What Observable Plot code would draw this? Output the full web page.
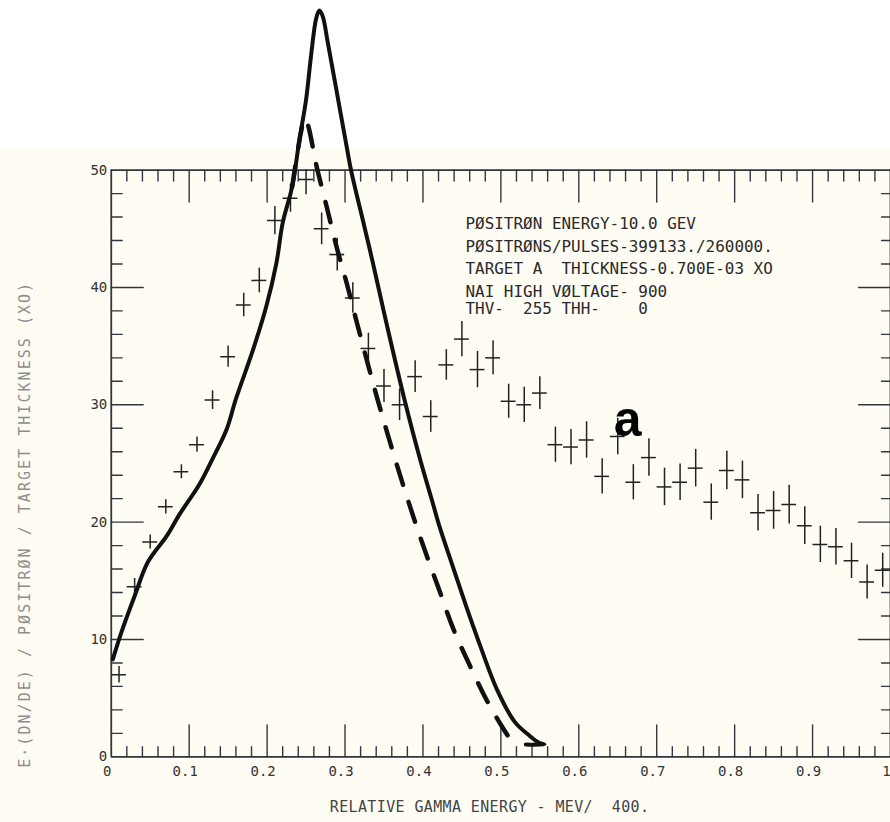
<!DOCTYPE html>
<html>
<head>
<meta charset="utf-8">
<script src="https://cdn.jsdelivr.net/npm/d3@7"></script>
<script src="https://cdn.jsdelivr.net/npm/@observablehq/plot@0.6"></script>
<style>
html, body { margin: 0; padding: 0; background: #ffffff; }
#wrap { width: 890px; height: 822px; overflow: hidden;
  background: linear-gradient(#ffffff 0px, #ffffff 147px, #fefcf3 147px); }
#wrap svg { display: block; }
</style>
</head>
<body>
<div id="wrap"></div>
<script>
// ---- measured data points (crosses) ----
const pointX = [0.01,0.03,0.05,0.07,0.09,0.11,0.13,0.15,0.17,0.19,
                0.21,0.23,0.25,0.27,0.29,0.31,0.33,0.35,0.37,0.39,
                0.41,0.43,0.45,0.47,0.49,0.51,0.53,0.55,0.57,0.59,
                0.61,0.63,0.65,0.67,0.69,0.71,0.73,0.75,0.77,0.79,
                0.81,0.83,0.85,0.87,0.89,0.91,0.93,0.95,0.97,0.99];
const pointY = [7.0,14.5,18.3,21.3,24.3,26.6,30.4,34.1,38.5,40.6,
                45.7,47.6,49.2,45.0,42.8,39.1,34.8,31.6,30.0,32.4,
                29.0,33.4,35.6,33.0,34.0,30.3,30.0,31.0,26.6,26.4,
                27.0,23.9,27.3,23.4,25.5,23.0,23.4,24.6,21.7,24.4,
                23.6,20.8,21.0,21.5,19.7,18.1,17.9,16.7,14.9,15.9];
const pointErr = [0.7,0.7,0.6,0.6,0.6,0.65,0.8,0.9,1.0,1.05,
                  1.2,1.2,1.3,1.35,1.4,1.3,1.3,1.4,1.35,1.35,
                  1.35,1.3,1.5,1.55,1.45,1.45,1.5,1.4,1.5,1.5,
                  1.55,1.5,1.55,1.5,1.6,1.6,1.55,1.6,1.55,1.65,
                  1.6,1.55,1.6,1.65,1.6,1.55,1.55,1.5,1.45,1.45];
const binHalfWidth = 0.0095;

// ---- solid calculated curve ----
const solidX = [0.002,0.013,0.030,0.047,0.071,0.088,0.113,0.130,0.148,0.160,
                0.182,0.199,0.212,0.220,0.2322,0.2415,0.250,0.2565,0.2629,0.267,
                0.2714,0.2778,0.2885,0.3013,0.3077,0.3248,0.3354,0.3462,0.3568,0.3761,
                0.3974,0.4123,0.4209,0.4379,0.4551,0.4727,0.4952,0.5175,0.5367,0.549,
                0.556,0.532];
const solidY = [8.3,10.6,13.7,16.6,18.8,20.7,23.2,25.4,27.9,30.5,
                34.7,38.4,42.1,45.5,48.6,52.6,56.0,59.8,62.9,63.6,
                63.1,60.9,57.0,52.3,50.0,45.2,42.2,39.0,35.9,30.5,
                25.1,21.7,19.7,16.3,12.9,9.6,5.7,3.0,1.8,1.2,
                1.05,1.05];

// ---- dashed calculated curve ----
const dashX = [0.2322,0.2437,0.248,0.2521,0.2585,0.2629,0.276,0.289,0.302,0.316,
               0.330,0.342,0.356,0.372,0.388,0.404,0.421,0.439,0.460,0.482,
               0.504,0.518];
const dashY = [48.6,53.3,54.4,53.9,52.0,50.5,47.0,43.5,40.4,36.8,
               33.3,30.4,27.2,23.7,20.4,17.3,14.2,10.9,7.8,4.8,
               2.3,0.9];

// ---- axes ----
const xMajor = [0,0.1,0.2,0.3,0.4,0.5,0.6,0.7,0.8,0.9,1];
const xTickLabels = ["0","0.1","0.2","0.3","0.4","0.5","0.6","0.7","0.8","0.9","1"];
const xInnerMajor = [0.1,0.2,0.3,0.4,0.5,0.6,0.7,0.8,0.9];
const xMinor = [0.02,0.04,0.06,0.08,0.12,0.14,0.16,0.18,0.22,0.24,0.26,0.28,
                0.32,0.34,0.36,0.38,0.42,0.44,0.46,0.48,0.52,0.54,0.56,0.58,
                0.62,0.64,0.66,0.68,0.72,0.74,0.76,0.78,0.82,0.84,0.86,0.88,
                0.92,0.94,0.96,0.98];
const yMajor = [0,10,20,30,40,50];
const yTickLabels = ["0","10","20","30","40","50"];
const yInnerMajor = [10,20,30,40];
const yMinor = [2,4,6,8,12,14,16,18,22,24,26,28,32,34,36,38,42,44,46,48];

// ---- texts ----
const xTitle = "RELATIVE GAMMA ENERGY - MEV/  400.";
const yTitle = "E·(DN/DE) / PØSITRØN / TARGET THICKNESS (XO)";
const noteLines = [
  "PØSITRØN ENERGY-10.0 GEV",
  "PØSITRØNS/PULSES-399133./260000.",
  "TARGET A  THICKNESS-0.700E-03 XO",
  "NAI HIGH VØLTAGE- 900",
  "THV-  255 THH-    0"
];
const panelLabel = "a";

// ---- build tables ----
const points = pointX.map((x, i) => ({x, y: pointY[i], e: pointErr[i]}));
const solid = solidX.map((x, i) => ({x, y: solidY[i]}));
const dashed = dashX.map((x, i) => ({x, y: dashY[i]}));

const tickShape = {draw(context, l) { context.moveTo(0, 0); context.lineTo(0, -l); }};
const axisColor = "#33363f";
const mono = "'DejaVu Sans Mono', monospace";

function ticks(values, orient, len) {
  const common = {length: len, anchor: "start", shape: tickShape, stroke: axisColor, strokeWidth: 1.4};
  if (orient === "bottom") return Plot.vector(values, {...common, x: d => d, y: () => 0, rotate: 0});
  if (orient === "top") return Plot.vector(values, {...common, x: d => d, y: () => 50, rotate: 180});
  if (orient === "left") return Plot.vector(values, {...common, x: () => 0, y: d => d, rotate: 90});
  return Plot.vector(values, {...common, x: () => 1, y: d => d, rotate: -90});
}

const noteDy = [54, 76.7, 99.3, 121.7, 139.3];

const chart = Plot.plot({
  width: 892,
  height: 822,
  marginLeft: 111,
  marginRight: 0,
  marginTop: 170,
  marginBottom: 64,
  style: {background: "transparent", overflow: "visible", fontFamily: mono, color: "#333"},
  x: {domain: [0, 1], axis: null},
  y: {domain: [0, 50], axis: null},
  marks: [
    // frame
    Plot.ruleY([0, 50], {stroke: axisColor, strokeWidth: 1.8}),
    Plot.ruleX([0, 1], {stroke: axisColor, strokeWidth: 1.8}),
    ticks(xMinor, "bottom", 10), ticks(xInnerMajor, "bottom", 32),
    ticks(xMinor, "top", 11), ticks(xInnerMajor, "top", 32),
    ticks(yMinor, "left", 11), ticks(yInnerMajor, "left", 32),
    ticks(yMinor, "right", 9), ticks(yInnerMajor, "right", 32),
    // tick labels
    Plot.text(xMajor, {x: d => d, y: () => 0, text: (d, i) => xTickLabels[i],
      lineAnchor: "top", dy: 9, dx: -4, fontSize: 14, fill: "#333", fontFamily: mono}),
    Plot.text(yMajor, {x: () => 0, y: d => d, text: (d, i) => yTickLabels[i],
      textAnchor: "end", lineAnchor: "middle", dx: -4, fontSize: 14, fill: "#333", fontFamily: mono}),
    // axis titles
    Plot.text([xTitle], {frameAnchor: "top-left", dx: 379, dy: 639, text: d => d,
      textAnchor: "middle", lineAnchor: "middle", fontSize: 15, fill: "#444", fontFamily: mono}),
    Plot.text([yTitle], {frameAnchor: "top-left", dx: -86, dy: 356, rotate: -90, text: d => d,
      textAnchor: "middle", lineAnchor: "middle", fontSize: 15, fill: "#8e8e8e", fontFamily: mono}),
    // annotation block
    ...noteLines.map((t, i) => Plot.text([t], {frameAnchor: "top-left", dx: 355, dy: noteDy[i],
      text: d => d, textAnchor: "start", lineAnchor: "middle", fontSize: 16, fill: "#2a2a2a", fontFamily: mono})),
    // data crosses
    Plot.ruleX(points, {x: "x", y1: d => d.y - d.e, y2: d => d.y + d.e,
      stroke: "#222", strokeWidth: 1.5, clip: true}),
    Plot.ruleY(points, {y: "y", x1: d => d.x - binHalfWidth, x2: d => d.x + binHalfWidth,
      stroke: "#222", strokeWidth: 1.5, clip: true}),
    // curves
    Plot.line(dashed, {x: "x", y: "y", stroke: "#111", strokeWidth: 4.5, curve: "catmull-rom",
      strokeDasharray: "21,18", strokeLinejoin: "round"}),
    Plot.line(solid, {x: "x", y: "y", stroke: "#111", strokeWidth: 4, curve: "catmull-rom",
      strokeLinejoin: "round", strokeLinecap: "round"}),
    // panel label
    Plot.text([panelLabel], {frameAnchor: "top-left", dx: 503.7, dy: 250.7, text: d => d,
      textAnchor: "start", lineAnchor: "middle", fontSize: 50, fontWeight: "bold", fill: "#000",
      fontFamily: "'Liberation Sans', Arial, sans-serif"})
  ]
});

// stretch the two axis titles to the lengths measured on the reference
chart.querySelectorAll("text").forEach(t => {
  if (t.textContent === yTitle) { t.setAttribute("textLength", "486"); t.setAttribute("lengthAdjust", "spacing"); }
  if (t.textContent === xTitle) { t.setAttribute("textLength", "320"); t.setAttribute("lengthAdjust", "spacing"); }
});
document.getElementById("wrap").appendChild(chart);
</script>
</body>
</html>
